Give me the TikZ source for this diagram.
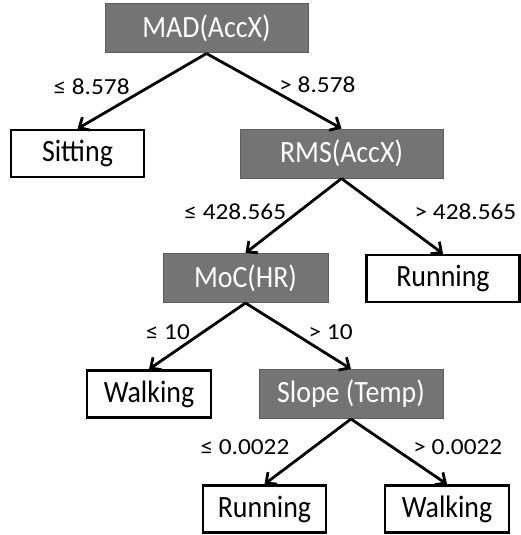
\documentclass[tikz,border=0pt]{standalone}
\usepackage{fontspec}
\setmainfont{Carlito}
\newfontfamily\boxfont[FakeStretch=0.9]{Carlito}
\newfontfamily\condfont[FakeStretch=1.1]{Carlito}
\usetikzlibrary{arrows.meta,positioning}

\definecolor{splitgray}{HTML}{747474}
\definecolor{splitedge}{HTML}{5E5E5E}

\begin{document}
\begin{tikzpicture}[x=1pt, y=1pt, >={Straight Barb[length=8pt,width=15pt]}]
			\tikzstyle{split}=[draw=splitedge, line width=1pt, fill=splitgray, text=white, minimum height=49pt, inner sep=0pt, font=\boxfont\fontsize{31}{34}\selectfont]
			\tikzstyle{leaf}=[draw, line width=2.6pt, fill=white, minimum height=47pt, inner sep=0pt, font=\boxfont\fontsize{31}{34}\selectfont]
			\tikzstyle{br}=[draw, line width=2.8pt, ->]
			\tikzstyle{cond}=[font=\condfont\fontsize{23}{26}\selectfont, inner sep=6pt, yshift=4pt]
			\useasboundingbox (0,0) rectangle (521,-535);
			\node[split, minimum width=203pt] (mad) at (206.5,-28.5) {MAD(AccX)};
			\node[leaf, minimum width=133pt] (sit) at (77.5,-153.5) {Sitting};
			\node[split, minimum width=203pt] (rms) at (341.5,-153.5) {RMS(AccX)};
			\node[split, minimum width=165pt] (moc) at (245.5,-278) {MoC(HR)};
			\node[leaf, minimum width=153pt] (runA) at (443,-278.5) {Running};
			\node[leaf, minimum width=124pt] (walkA) at (149,-394) {Walking};
			\node[split, minimum width=184pt] (slope) at (351,-394) {Slope (Temp)};
			\node[leaf, minimum width=123pt] (runB) at (264.5,-509) {Running};
			\node[leaf, minimum width=124pt] (walkB) at (447,-509) {Walking};
			\draw[br] (mad.south) -- (sit.north) node[cond, midway, left, xshift=-5pt] {≤ 8.578};
			\draw[br] (mad.south) -- (rms.north) node[cond, midway, right, xshift=-2pt, yshift=2pt] {> 8.578};
			\draw[br] (rms.south) -- (moc.north) node[cond, midway, left] {≤ 428.565};
			\draw[br] (rms.south) -- (runA.north) node[cond, midway, right, xshift=15pt] {> 428.565};
			\draw[br] (moc.south) -- (walkA.north) node[cond, midway, left] {≤ 10};
			\draw[br] (moc.south) -- (slope.north) node[cond, midway, right, xshift=3pt] {> 10};
			\draw[br] (slope.south) -- (runB.north) node[cond, midway, left, xshift=-11pt] {≤ 0.0022};
			\draw[br] (slope.south) -- (walkB.north) node[cond, midway, right, xshift=7pt] {> 0.0022};
		\end{tikzpicture}
\end{document}
